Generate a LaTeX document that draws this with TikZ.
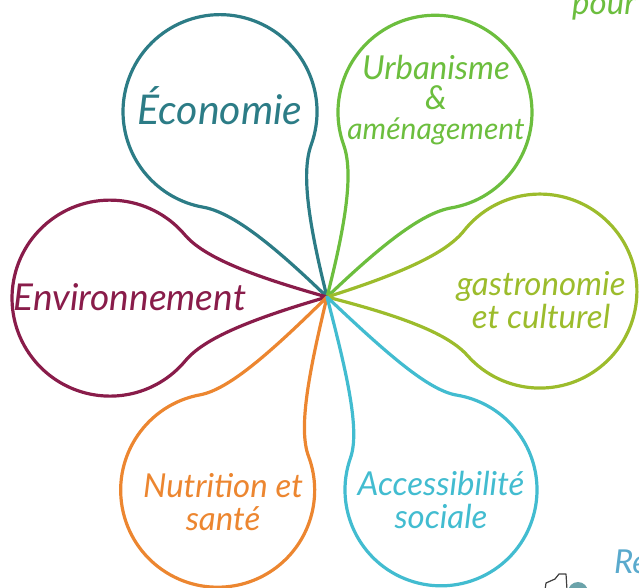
\documentclass[tikz,border=0pt]{standalone}
\usepackage{fontspec}
\setmainfont{Lato}
\definecolor{eco}{RGB}{44,124,134}
\definecolor{urb}{RGB}{108,190,62}
\definecolor{gas}{RGB}{156,188,44}
\definecolor{env}{RGB}{137,28,74}
\definecolor{nut}{RGB}{236,134,48}
\definecolor{acc}{RGB}{66,188,208}
\definecolor{reblue}{RGB}{90,170,205}
\newcommand\mypetal[4]{%
  \begin{scope}[shift={(c)}, rotate=#2]
    \draw[petalline, #1] (0,0)
      .. controls ({0.35*#3},{-0.1*#3}) and ({#3-0.959*#4},{-0.413*#4})
      .. ({#3-0.766*#4},{-0.643*#4})
      arc[start angle=-140, end angle=140, radius=#4]
      .. controls ({#3-0.959*#4},{0.413*#4}) and ({0.35*#3},{0.1*#3})
      .. (0,0);
  \end{scope}}
\newcommand\fs[1]{\fontsize{#1}{33}\selectfont}
\begin{document}
\begin{tikzpicture}[x=1pt,y=1pt,
  petalline/.style={line width=3.2pt, line join=round, line cap=round},
  lab/.style={font=\itshape\fs{33}, align=center, inner sep=0pt}]
\useasboundingbox (0,0) rectangle (639,-588);
\clip (0,0) rectangle (639,-588);
\coordinate (c) at (327,-297);
\mypetal{eco}{120.0}{214}{97}
\mypetal{urb}{59.7}{214}{97}
\mypetal{gas}{1.6}{213}{97}
\mypetal{env}{180.3}{217}{98}
\mypetal{nut}{240.5}{222}{97}
\mypetal{acc}{300.6}{224}{96}
\node[lab, text=eco, font=\itshape\fs{41}] (teco) at (220,-106) {Économie};
\node[lab, text=urb, font=\itshape\fontsize{33}{30}\selectfont] (turb) at (436,-100) {Urbanisme\\\&\\{\fs{30}aménagement}};
\node[lab, text=gas] (tgas) at (541,-300) {gastronomie\\et culturel};
\node[lab, text=env, font=\itshape\fs{37}] (tenv) at (130,-297) {Environnement};
\node[lab, text=nut] (tnut) at (223,-502) {Nutrition et\\santé};
\node[lab, text=acc] (tacc) at (441,-500) {Accessibilité\\sociale};
\node[lab, text=urb, anchor=base west] (tpour) at (572,-15) {pour};
\node[lab, text=reblue, anchor=base west] (tre) at (614,-573) {Re};
\draw[line width=1.2pt, black!75, line join=round] (545,-590) -- (546,-583) -- (555,-579) -- (559,-574) -- (566,-574) -- (567,-590);
\fill[eco!70] (578,-592) circle (10);
\end{tikzpicture}
\end{document}
